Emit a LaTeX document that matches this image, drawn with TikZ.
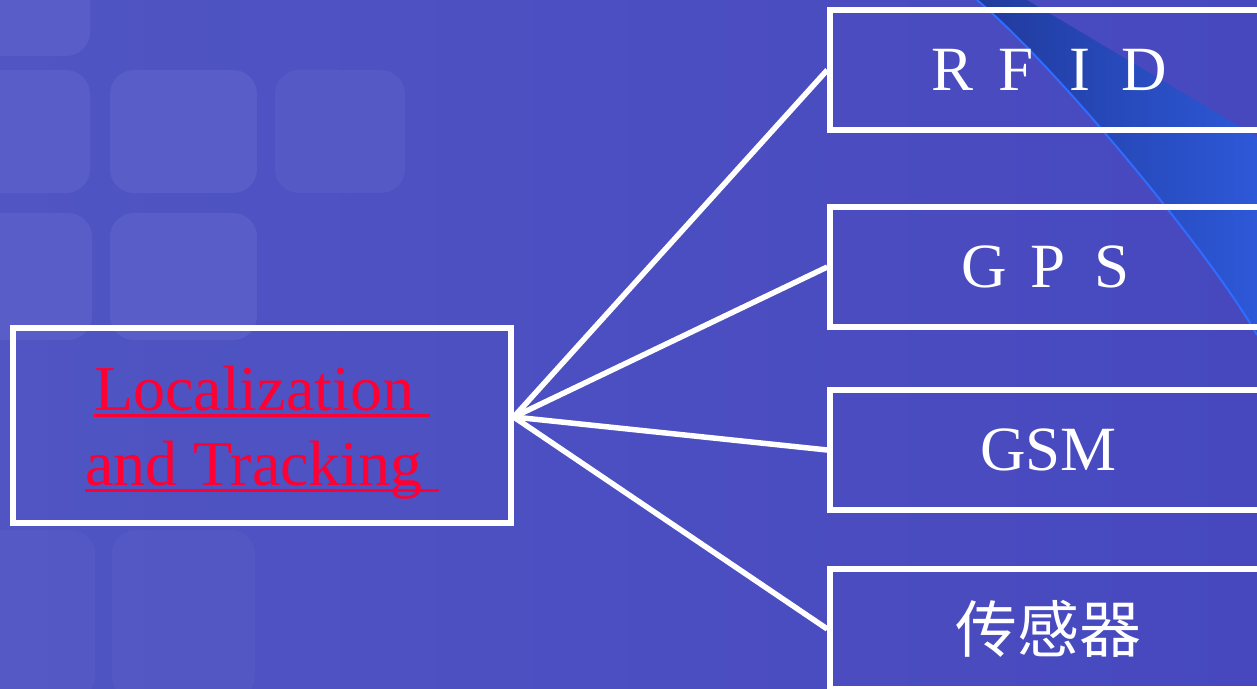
\documentclass[tikz,border=0pt]{standalone}
\usepackage{fontspec}
\setmainfont{Liberation Serif}
\newfontfamily\cjkfont{Noto Sans CJK SC}
\usetikzlibrary{calc}
\definecolor{bgblue}{HTML}{4748BE}
\definecolor{bgleft}{HTML}{5055C3}
\definecolor{keyblue}{HTML}{5C61C9}
\definecolor{banddark}{HTML}{213A9C}
\definecolor{bandlight}{HTML}{2D58D8}
\definecolor{edgeblue}{HTML}{2F6CFF}
\definecolor{locred}{HTML}{FF0033}
\newcommand\ulx[1]{\setbox0\hbox{#1}\rlap{\rule[-6.5pt]{\wd0}{3pt}}\box0}
\newcommand\fwc[1]{\makebox[64pt]{#1}}
\begin{document}
\begin{tikzpicture}[x=1pt,y=-1pt,
  box/.style={draw=white,line width=5.5pt,minimum width=437pt,minimum height=120pt,inner sep=0pt,text=white},
  link/.style={draw=white,line width=5.5pt},
  keycap/.style={fill=keyblue,rounded corners=24pt,opacity=0.75}]
\useasboundingbox (0,0) rectangle (1257,688);
\clip (0,0) rectangle (1257,688);
% background
\shade[left color=bgleft,right color=bgblue] (0,0) rectangle (1257,688);
\fill[keycap] (-30,-40) rectangle (90,56);
\fill[keycap] (-30,70) rectangle (90,193);
\fill[keycap] (110,70) rectangle (257,193);
\fill[keycap,opacity=0.5] (275,70) rectangle (405,193);
\fill[keycap] (-30,213) rectangle (92,340);
\fill[keycap] (110,213) rectangle (257,340);
\fill[keycap,opacity=0.35] (-30,530) rectangle (95,700);
\fill[keycap,opacity=0.35] (112,530) rectangle (255,700);
% diagonal band
\shade[left color=banddark,right color=bandlight]
  (977,0) -- (1027,0) -- (1257,137) -- (1257,335)
  .. controls (1215,260) and (1060,70) .. (977,0) -- cycle;
\draw[edgeblue,line width=2pt] (1257,335) .. controls (1215,260) and (1060,70) .. (977,0);
% nodes
\node[box,minimum width=498pt,minimum height=195pt,align=center,text=locred,
      font=\fontsize{64}{75}\selectfont] (loc) at (262,425.5)
  {\rule{0pt}{59pt}\ulx{Localization\ }\\\ulx{and Tracking\ }};
\node[box,font=\fontsize{63}{70}\selectfont] (rfid) at (1048.5,70) {\fwc{R}\fwc{F}\fwc{I}\fwc{D}};
\node[box,font=\fontsize{63}{70}\selectfont] (gps) at (1048.5,267) {\fwc{G}\fwc{P}\fwc{S}};
\node[box,font=\fontsize{63}{70}\selectfont] (gsm) at (1048.5,450) {GSM};
\node[box,font=\fontsize{62}{70}\selectfont\cjkfont] (sensor) at (1048.5,629) {传感器};
% connectors
\coordinate (hub) at ($(loc.east)+(0,-8.5)$);
\draw[link] (hub) -- (rfid.west);
\draw[link] (hub) -- (gps.west);
\draw[link] (hub) -- (gsm.west);
\draw[link] (hub) -- (sensor.west);
\end{tikzpicture}
\end{document}
